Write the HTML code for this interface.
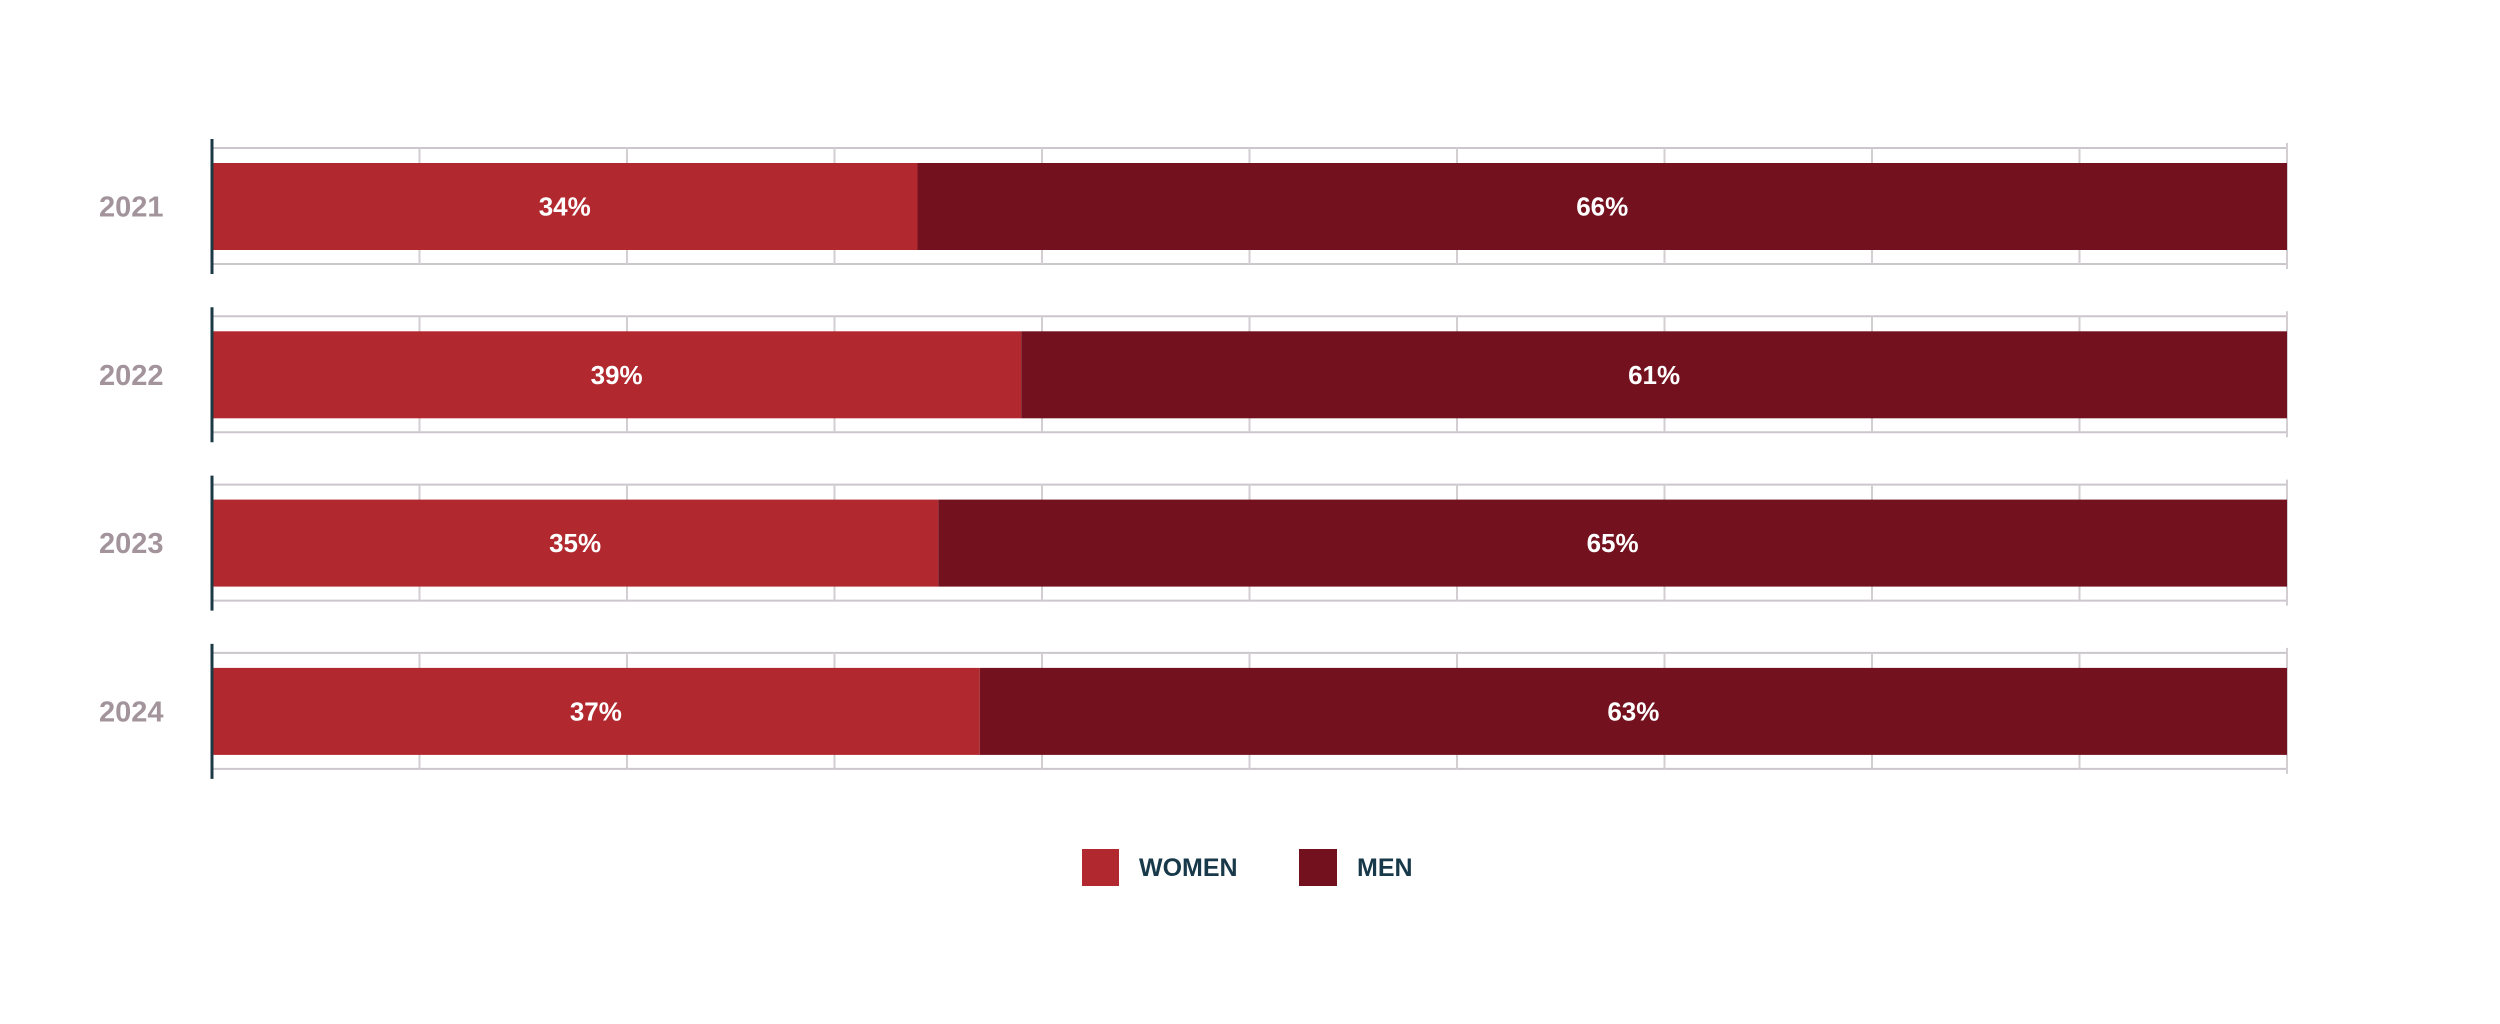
<!DOCTYPE html>
<html><head><meta charset="utf-8"><style>
html,body{margin:0;padding:0;background:#fff;width:2500px;height:1024px;overflow:hidden}
svg{display:block;font-family:"Liberation Sans",sans-serif}
</style></head><body>
<svg id="chart" width="2500" height="1024" viewBox="0 0 2500 1024" xmlns="http://www.w3.org/2000/svg">
<g id="grid"></g>
<g id="bars"></g>
<g id="legend">
  <rect x="1082" y="849" width="37" height="37" fill="#b1292f"/>
  <text x="1139" y="876" font-size="25" font-weight="bold" fill="#17394a">WOMEN</text>
  <rect x="1299" y="849" width="38" height="37" fill="#73121e"/>
  <text x="1357" y="876" font-size="25" font-weight="bold" fill="#17394a">MEN</text>
</g>
</svg>
<script>
const years = ["2021","2022","2023","2024"];
const women = [34,39,35,37];
const men = [66,61,65,63];
const ticks = [0,10,20,30,40,50,60,70,80,90,100];

const NS="http://www.w3.org/2000/svg";
const x0=212, x1=2287;
function xs(v){return x0+(x1-x0)*v/100;}
function rowTop(i){return 163+i*168.3;}
const barH=87;
const grid=document.getElementById('grid');
const bars=document.getElementById('bars');
function mk(tag,attrs,parent){const e=document.createElementNS(NS,tag);for(const k in attrs)e.setAttribute(k,attrs[k]);parent.appendChild(e);return e;}

years.forEach((y,i)=>{
  const t=rowTop(i);
  const gt=t-15, gb=t+barH+14;
  const l1=mk('line',{x1:x0,x2:x1,y1:gt,y2:gt,stroke:'#cbc6cb','stroke-width':2},grid);
  
  
  const l2=mk('line',{x1:x0,x2:x1,y1:gb,y2:gb,stroke:'#cbc6cb','stroke-width':2},grid);
  
  
  ticks.forEach((v,j)=>{
    if(j===0) return;
    const ext=(j===ticks.length-1)?5:0;
    const tl=mk('line',{x1:xs(v),x2:xs(v),y1:gt-ext,y2:gb+ext,stroke:'#d2ced2','stroke-width':2},grid);
    
    
  });
  const w=women[i], m=men[i];
  const rw=mk('rect',{x:xs(0),y:t,width:xs(w)-xs(0),height:barH,fill:'#b1292f'},bars);
  
  
  const rm=mk('rect',{x:xs(w),y:t,width:xs(w+m)-xs(w),height:barH,fill:'#73121e'},bars);
  
  
  const tw=mk('text',{x:(xs(0)+xs(w))/2,y:t+barH/2+9,'text-anchor':'middle','font-size':26,'font-weight':'bold',fill:'#fff'},bars);
  tw.textContent=w+'%';
  
  
  const tm=mk('text',{x:(xs(w)+xs(w+m))/2,y:t+barH/2+9,'text-anchor':'middle','font-size':26,'font-weight':'bold',fill:'#fff'},bars);
  tm.textContent=m+'%';
  
  
  const yl=mk('text',{x:99,y:t+barH/2+10,'font-size':29,'font-weight':'bold',fill:'#a3949c'},bars);
  yl.textContent=y;
  
  
  const ax=mk('line',{x1:x0,x2:x0,y1:gt-9,y2:gb+10,stroke:'#1b3a44','stroke-width':3},bars);
  
  
});
</script>
</body></html>
